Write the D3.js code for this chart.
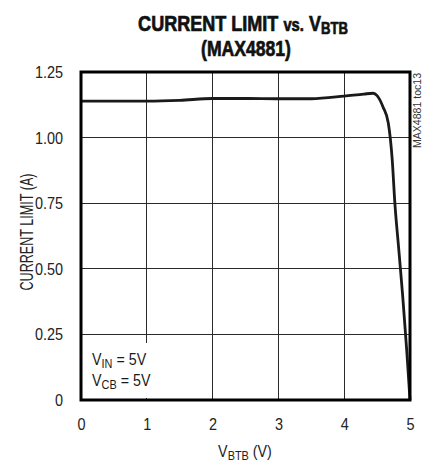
<!DOCTYPE html>
<html>
<head>
<meta charset="utf-8">
<script src="https://cdn.jsdelivr.net/npm/d3@7"></script>
<style>
  body { margin: 0; background: #fff; }
  svg text { font-family: "Liberation Sans", Arial, sans-serif; transform-box: fill-box; }
</style>
</head>
<body>
<div id="chart"></div>
<script>
const W = 423, H = 464;
const margin = {left: 81, right: 13, top: 72, bottom: 64};

// curve: V_BTB (V) -> current limit (A)
const vbtb = [0, 0.5, 1.0, 1.5, 2.0, 2.5, 3.0, 3.5, 4.0, 4.3, 4.44, 4.5, 4.59, 4.67, 4.73, 4.77, 4.83, 4.89, 4.95, 5.0];
const ilim = [1.139, 1.139, 1.139, 1.142, 1.149, 1.149, 1.148, 1.148, 1.158, 1.166, 1.169, 1.16, 1.117, 1.056, 0.915, 0.75, 0.572, 0.393, 0.19, 0];
const xTicks = [0, 1, 2, 3, 4, 5];
const yTicks = [0, 0.25, 0.5, 0.75, 1.0, 1.25];
const yTickLabels = ["0", "0.25", "0.50", "0.75", "1.00", "1.25"];

// squeeze text horizontally to fake a condensed face
function squeeze(sel, k, origin) {
    sel.style("transform-origin", origin).style("transform", `scaleX(${k})`);
}

const svg = d3.select("#chart").append("svg")
    .attr("width", W)
    .attr("height", H);

const x = d3.scaleLinear().domain([0, 5]).range([margin.left, W - margin.right]);
const y = d3.scaleLinear().domain([0, 1.25]).range([H - margin.bottom, margin.top]);

// grid
const grid = svg.append("g").attr("stroke", "#2a2a2a").attr("stroke-width", 1).attr("shape-rendering", "crispEdges");
grid.selectAll(".vx").data(xTicks.slice(1, -1)).join("line")
    .attr("x1", d => x(d)).attr("x2", d => x(d))
    .attr("y1", y(0)).attr("y2", y(1.25));
grid.selectAll(".hy").data(yTicks.slice(1, -1)).join("line")
    .attr("x1", x(0)).attr("x2", x(5))
    .attr("y1", d => y(d)).attr("y2", d => y(d));

// annotation box (white behind text)
svg.append("rect")
    .attr("x", x(0) + 3).attr("y", 343)
    .attr("width", 70).attr("height", y(0) - 345)
    .attr("fill", "#fff");

const ann = svg.append("g").attr("font-size", 17).attr("fill", "#1a1a1a");
let t1 = ann.append("text").attr("x", x(0) + 11).attr("y", 365);
t1.append("tspan").text("V");
t1.append("tspan").attr("font-size", 13).attr("dy", 3).text("IN");
t1.append("tspan").attr("dy", -3).text(" = 5V");
let t2 = ann.append("text").attr("x", x(0) + 11).attr("y", 386);
t2.append("tspan").text("V");
t2.append("tspan").attr("font-size", 13).attr("dy", 3).text("CB");
t2.append("tspan").attr("dy", -3).text(" = 5V");
squeeze(ann.selectAll("text"), 0.84, "left center");

// curve
const line = d3.line()
    .x((d, i) => x(vbtb[i]))
    .y((d, i) => y(ilim[i]))
    .curve(d3.curveMonotoneX);
svg.append("path")
    .datum(ilim)
    .attr("d", line)
    .attr("fill", "none")
    .attr("stroke", "#1a1a1a")
    .attr("stroke-width", 2.8)
    .attr("stroke-linejoin", "round");

// frame
svg.append("rect")
    .attr("x", x(0)).attr("y", y(1.25))
    .attr("width", x(5) - x(0)).attr("height", y(0) - y(1.25))
    .attr("fill", "none").attr("stroke", "#000").attr("stroke-width", 3);

// axes labels
const xAxis = d3.axisBottom(x).tickValues(xTicks).tickSize(0).tickPadding(18).tickFormat(d3.format("d"));
svg.append("g").attr("transform", `translate(0,${y(0)})`).call(xAxis)
    .call(g => g.select(".domain").remove())
    .call(g => g.selectAll("text").attr("font-size", 17).attr("fill", "#222")
        .attr("font-family", null))
    .call(g => squeeze(g.selectAll("text"), 0.85, "center"));

const yAxis = d3.axisLeft(y).tickValues(yTicks).tickSize(0).tickPadding(18)
    .tickFormat((d, i) => yTickLabels[i]);
svg.append("g").attr("transform", `translate(${x(0)},0)`).call(yAxis)
    .call(g => g.select(".domain").remove())
    .call(g => g.selectAll("text").attr("font-size", 17).attr("fill", "#222")
        .attr("font-family", null))
    .call(g => squeeze(g.selectAll("text"), 0.85, "right center"));

// axis titles
const xt = svg.append("text").attr("x", 245).attr("y", 457).attr("text-anchor", "middle")
    .attr("font-size", 17).attr("fill", "#222");
xt.append("tspan").text("V");
xt.append("tspan").attr("font-size", 13).attr("dy", 3).text("BTB");
xt.append("tspan").attr("dy", -3).text(" (V)");
squeeze(xt, 0.84, "center");

const yt = svg.append("g")
    .attr("transform", `translate(33,${(y(0) + y(1.25)) / 2 - 4}) rotate(-90)`)
    .append("text")
    .attr("text-anchor", "middle")
    .attr("font-size", 18).attr("fill", "#222")
    .text("CURRENT LIMIT (A)");
squeeze(yt, 0.7, "center");

// title
const tt = svg.append("text").attr("x", 243).attr("y", 31).attr("text-anchor", "middle")
    .attr("font-size", 22).attr("font-weight", "bold").attr("fill", "#111")
    .attr("stroke", "#111").attr("stroke-width", 0.7);
tt.append("tspan").text("CURRENT LIMIT ");
tt.append("tspan").attr("font-size", 18).text("vs.");
tt.append("tspan").text(" V");
tt.append("tspan").attr("font-size", 16).attr("dy", 3).text("BTB");
squeeze(tt, 0.82, "center");
const tt2 = svg.append("text").attr("x", 246).attr("y", 56).attr("text-anchor", "middle")
    .attr("font-size", 22).attr("font-weight", "bold").attr("fill", "#111")
    .attr("stroke", "#111").attr("stroke-width", 0.7)
    .text("(MAX4881)");
squeeze(tt2, 0.8, "center");

// side tag
svg.append("g")
    .attr("transform", `translate(421,${y(1.25) + 1}) rotate(-90)`)
    .append("text")
    .attr("text-anchor", "end")
    .attr("font-size", 10).attr("fill", "#333")
    .attr("textLength", 75).attr("lengthAdjust", "spacingAndGlyphs")
    .text("MAX4881 toc13");
</script>
</body>
</html>
